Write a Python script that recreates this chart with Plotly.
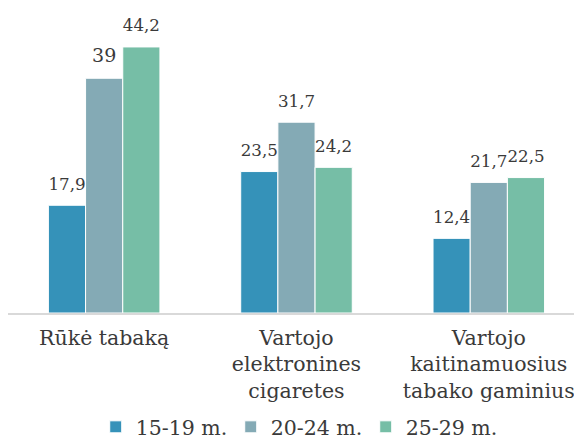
import plotly.graph_objects as go

categories = ["Rūkė tabaką", "Vartojo<br>elektronines<br>cigaretes", "Vartojo<br>kaitinamuosius<br>tabako gaminius"]
series_names = ["15-19 m.", "20-24 m.", "25-29 m."]
age_15_19 = [17.9, 23.5, 12.4]
age_20_24 = [39, 31.7, 21.7]
age_25_29 = [44.2, 24.2, 22.5]

colors = ["#3592b9", "#84aab5", "#76bea6"]
font_family = "DejaVu Serif"
text_color = "#3a3a3a"
y_max = 52
label_lift = 1.5  # extra gap between bar top and its label, in axis units

fig = go.Figure()
for name, vals, color in zip(series_names, [age_15_19, age_20_24, age_25_29], colors):
    fig.add_trace(go.Bar(
        x=categories,
        y=vals,
        name=name,
        marker=dict(color=color, line=dict(color="white", width=1)),
        hovertemplate="%{x}<br>" + name + ": %{y}<extra></extra>",
    ))

# labels: same bars, transparent, on a slightly shifted overlay axis
for name, vals in zip(series_names, [age_15_19, age_20_24, age_25_29]):
    fig.add_trace(go.Bar(
        x=categories,
        y=vals,
        yaxis="y2",
        showlegend=False,
        hoverinfo="skip",
        marker=dict(color="rgba(0,0,0,0)", line=dict(width=0)),
        text=[str(v).replace(".", ",") for v in vals],
        textposition="outside",
        textfont=dict(family=font_family, size=19, color=text_color),
        cliponaxis=False,
    ))

fig.update_layout(
    width=574,
    height=441,
    margin=dict(l=8, r=0, t=0, b=128),
    barmode="group",
    bargap=0.42,
    bargroupgap=0,
    plot_bgcolor="white",
    paper_bgcolor="white",
    font=dict(family=font_family, color=text_color),
    showlegend=True,
    legend=dict(
        orientation="h",
        x=0.155, xanchor="left",
        yref="container", y=14 / 441, yanchor="middle",
        font=dict(size=20.5, family=font_family, color=text_color),
        itemwidth=30,
        entrywidthmode="pixels",
        entrywidth=90,
    ),
    yaxis=dict(range=[0, y_max], visible=False, showgrid=False, automargin=False),
    yaxis2=dict(overlaying="y", range=[-label_lift, y_max - label_lift], visible=False,
                automargin=False),
)
fig.update_xaxes(
    range=[-0.5, 2.443],
    automargin=False,
    showline=True, linecolor="#d9d9d9", linewidth=2,
    tickfont=dict(size=20.5, family=font_family, color=text_color),
    ticklabelstandoff=5,
    ticks="", showgrid=False,
)

# page body has a default 8px margin; drop it so the figure fills the window
fig.write_html("out.html", config={"displayModeBar": False},
               post_script="document.body.style.margin='0';")
